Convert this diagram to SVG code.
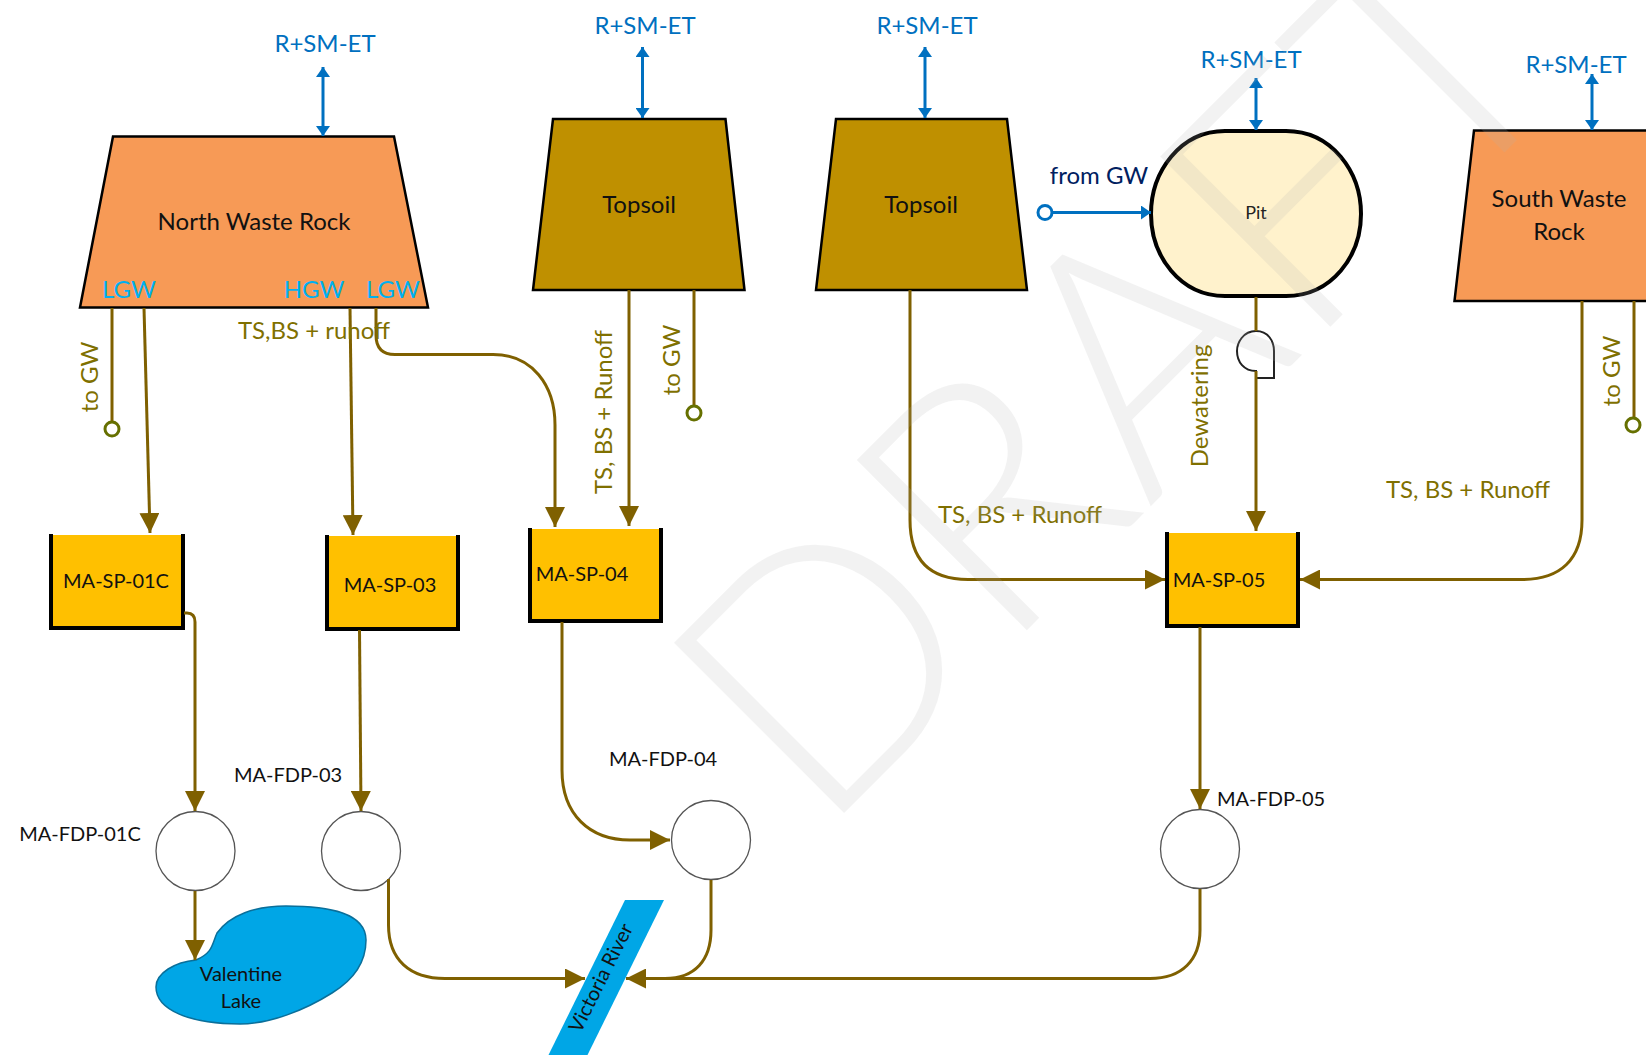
<svg xmlns="http://www.w3.org/2000/svg" width="1646" height="1055" viewBox="0 0 1646 1055">
<style>
text{font-family:"Lato","Carlito","Liberation Sans",sans-serif}
.b{fill:#0070C0;font-size:24px;text-anchor:middle}
.c{fill:#00B0F0;font-size:24px;text-anchor:middle}
.o{fill:#7F7000;font-size:24px;text-anchor:middle}
.k{fill:#111;font-size:24px;text-anchor:middle}
.s{fill:#111;font-size:20px;text-anchor:middle}
.w{fill:none;stroke:#000;stroke-width:2.5;stroke-linejoin:miter}
.orange{fill:#F79A56}
.brown{fill:#BF9000}
.tank{fill:#FFC000}
.wall{fill:none;stroke:#000;stroke-width:4}
.node{fill:#fff;stroke:#555;stroke-width:1.3}
.ol{fill:none;stroke:#7F6000;stroke-width:3;marker-end:url(#oa)}
.op{fill:none;stroke:#7F6000;stroke-width:3}
.gw{fill:#fff;stroke:#667000;stroke-width:3}
.bl{fill:none;stroke:#0070C0;stroke-width:3;marker-start:url(#bs);marker-end:url(#ba)}
</style>
<defs>
<marker id="oa" markerUnits="userSpaceOnUse" markerWidth="22" markerHeight="20" refX="20" refY="10" orient="auto"><path d="M0 0L20 10L0 20Z" fill="#7F6000"/></marker>
<marker id="ba" markerUnits="userSpaceOnUse" markerWidth="12" markerHeight="14" refX="10" refY="7" orient="auto"><path d="M0 0L10 7L0 14Z" fill="#0070C0"/></marker>
<marker id="bs" markerUnits="userSpaceOnUse" markerWidth="12" markerHeight="14" refX="0" refY="7" orient="auto"><path d="M10 0L0 7L10 14Z" fill="#0070C0"/></marker>
</defs>

<g id="north-waste-rock"><path class="w orange" d="M113 136.500H394L428 307.500H80Z"/>
<text class="k" x="254" y="230">North Waste Rock</text>
<text class="c" x="129" y="298">LGW</text><text class="c" x="314" y="298">HGW</text><text class="c" x="393" y="298">LGW</text></g>
<g id="topsoil-1"><path class="w brown" d="M553 119H725.500L744.500 290H533Z"/><text class="k" x="639" y="213">Topsoil</text></g>
<g id="topsoil-2"><path class="w brown" d="M836 119H1007L1027 290H816Z"/><text class="k" x="921" y="213">Topsoil</text></g>
<g id="pit"><path d="M1225 131H1286C1332 131 1361 172 1361 214C1361 256 1332 296 1286 296H1225C1180 296 1151 256 1151 214C1151 172 1180 131 1225 131Z" fill="#FFF2CC" stroke="#000" stroke-width="4"/><text x="1256" y="219" font-size="18" fill="#222" text-anchor="middle">Pit</text></g>
<g id="south-waste-rock"><path class="w orange" d="M1474 130.500H1660V301H1454.500Z"/>
<text class="k" x="1559" y="207">South Waste</text><text class="k" x="1559" y="240">Rock</text></g>
<g id="ma-sp-01c"><rect class="tank" x="51" y="535" width="133" height="93"/><path class="wall" d="M51 534V628H183V534"/><text class="s" x="116" y="588">MA-SP-01C</text></g>
<g id="ma-sp-03"><rect class="tank" x="327" y="536" width="131" height="93"/><path class="wall" d="M327 535V629H458V535"/><text class="s" x="390" y="592">MA-SP-03</text></g>
<g id="ma-sp-04"><rect class="tank" x="530" y="529" width="131" height="92"/><path class="wall" d="M530 528V621H661V528"/><text class="s" x="582" y="581">MA-SP-04</text></g>
<g id="ma-sp-05"><rect class="tank" x="1167" y="533" width="132" height="93"/><path class="wall" d="M1167 532V626H1298V532"/><text class="s" x="1219" y="587">MA-SP-05</text></g>
<g id="ma-fdp-01c"><circle class="node" cx="195.500" cy="851" r="39.500"/><text class="s" x="80" y="841">MA-FDP-01C</text></g>
<g id="ma-fdp-03"><circle class="node" cx="361" cy="851" r="39.500"/><text class="s" x="288" y="782">MA-FDP-03</text></g>
<g id="ma-fdp-04"><circle class="node" cx="711" cy="840" r="39.500"/><text class="s" x="663" y="766">MA-FDP-04</text></g>
<g id="ma-fdp-05"><circle class="node" cx="1200" cy="849" r="39.500"/><text class="s" x="1271" y="806">MA-FDP-05</text></g>
<g id="valentine-lake"><path d="M196 960C213 953 212 944 217 933C230 915 255 906 286 906C330 906 366 913 366 940C366 965 350 982 332 993C305 1010 270 1024 240 1024C190 1024 156 1010 156 987C156 973 175 962 196 960Z" fill="#00A6E6" stroke="#0A6F9A" stroke-width="1.500"/>
<text class="s" x="241" y="981">Valentine</text><text class="s" x="241" y="1008">Lake</text></g>
<g id="victoria-river"><path d="M625 900H664L587 1056H548Z" fill="#00A6E6"/>
<text class="s" transform="translate(607 981) rotate(-63.500)">Victoria River</text></g>
<g id="pump"><path d="M1256 331C1243 331 1237 343 1237 351C1237 362 1244 371 1256 371V378H1274V351C1274 341 1268 331 1256 331Z" fill="#fff" stroke="#222" stroke-width="2"/></g>

<g id="connectors">
<path class="op" d="M112 308V422"/>
<path class="ol" d="M144 308L150 533"/>
<path class="ol" d="M350 308L353 535"/>
<path class="ol" d="M376 308V335Q376 354.500 395 354.500H493C532 354.500 555 385 555 425V527"/>
<path class="ol" d="M629 290V526"/>
<path class="op" d="M694 290V405"/>
<path class="ol" d="M910 290V520C910 560 930 579.500 968 579.500H1165"/>
<path class="op" d="M1256 297V331"/>
<path class="ol" d="M1256 371V531"/>
<path class="ol" d="M1582 301V520C1582 560 1560 579.500 1522 579.500H1300"/>
<path class="op" d="M1634 301V417"/>
<path class="ol" d="M184 613H187Q195 613 195 622V811"/>
<path class="ol" d="M359.500 630L361 811"/>
<path class="ol" d="M562 622V770C562 815 590 840 630 840H670"/>
<path class="ol" d="M1200 627V809"/>
<path class="ol" d="M195 891V960"/>
<path class="ol" d="M388.500 879V925C388.500 960 410 978.500 445 978.500H585"/>
<path class="op" d="M711 880V930C711 960 695 978.500 665 978.500"/>
<path class="ol" d="M1200 889V930C1200 960 1182 978.500 1150 978.500H626"/>
<circle class="gw" cx="112" cy="429" r="7"/>
<circle class="gw" cx="694" cy="413" r="7"/>
<circle class="gw" cx="1633" cy="425" r="7"/>
<path class="bl" d="M323 67V136"/>
<path class="bl" d="M642.500 47V118"/>
<path class="bl" d="M925 47V118"/>
<path class="bl" d="M1256 78V130"/>
<path class="bl" d="M1592 74V130"/>
<path d="M1052 212.500H1151" fill="none" stroke="#0070C0" stroke-width="3" marker-end="url(#ba)"/>
<circle cx="1045" cy="212.500" r="7" fill="#fff" stroke="#0070C0" stroke-width="3"/>
</g>

<g id="labels">
<text class="b" x="325" y="52">R+SM-ET</text>
<text class="b" x="645" y="34">R+SM-ET</text>
<text class="b" x="927" y="34">R+SM-ET</text>
<text class="b" x="1251" y="68">R+SM-ET</text>
<text class="b" x="1576" y="73">R+SM-ET</text>
<text x="1099" y="184" font-size="24" fill="#002060" text-anchor="middle">from GW</text>
<text class="o" x="314" y="339">TS,BS + runoff</text>
<text class="o" transform="translate(98 377) rotate(-90)">to GW</text>
<text class="o" transform="translate(680 360) rotate(-90)">to GW</text>
<text class="o" transform="translate(1620 371) rotate(-90)">to GW</text>
<text class="o" transform="translate(612 412) rotate(-90)">TS, BS + Runoff</text>
<text class="o" x="1020" y="523">TS, BS + Runoff</text>
<text class="o" x="1468" y="498">TS, BS + Runoff</text>
<text class="o" transform="translate(1208 406) rotate(-90)">Dewatering</text>
</g>

<text id="watermark" transform="translate(819 838) rotate(-45)" font-size="340" fill="#b0b0b0" fill-opacity="0.17" style="font-weight:300">DRAFT</text>
</svg>
